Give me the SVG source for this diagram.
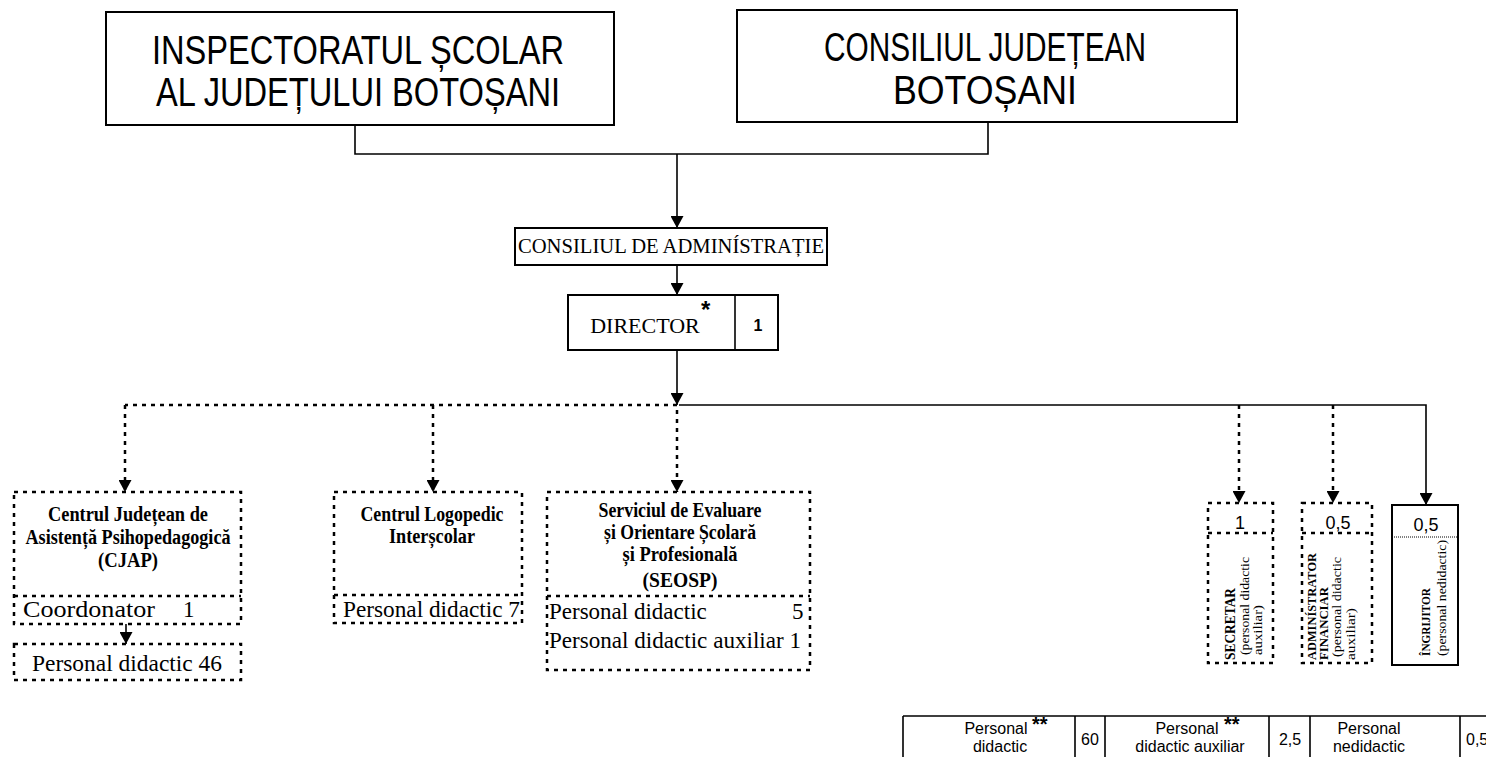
<svg xmlns="http://www.w3.org/2000/svg" width="1486" height="757" viewBox="0 0 1486 757">
<style>
.bg{fill:#fff}
.box{fill:#fff;stroke:#000;stroke-width:2}
.dbox{fill:none;stroke:#000;stroke-width:2.5;stroke-dasharray:4 5}
.ln{fill:none;stroke:#000;stroke-width:1.6}
.dln{fill:none;stroke:#000;stroke-width:2.5;stroke-dasharray:4 5}
.sans{font-family:"Liberation Sans",Arial,sans-serif;fill:#000}
.serif{font-family:"Liberation Serif","Times New Roman",serif;fill:#000}
.big{font-size:40px}
.b{font-weight:bold}
.reg{font-size:23px}
.bt{font-size:20px;font-weight:bold}
.mid{text-anchor:middle}
</style>
<defs>
<marker id="arr" viewBox="0 0 12 13" refX="12" refY="6.5" markerWidth="12" markerHeight="13" markerUnits="userSpaceOnUse" orient="auto">
<path d="M0,0 L12,6.5 L0,13 Z" fill="#000"/>
</marker>
</defs>
<rect class="bg" x="0" y="0" width="1486" height="757"/>

<g id="connectors">
<path class="ln" d="M355,125 V154 H988 V122"/>
<path class="ln" d="M677,154 V228" marker-end="url(#arr)"/>
<path class="ln" d="M677,265 V295" marker-end="url(#arr)"/>
<path class="ln" d="M677,350 V405" marker-end="url(#arr)"/>
<path class="dln" d="M677,405 H125"/>
<path class="dln" d="M125,405 V492" marker-end="url(#arr)"/>
<path class="dln" d="M433,405 V492" marker-end="url(#arr)"/>
<path class="dln" d="M677,410 V492" marker-end="url(#arr)"/>
<path class="ln" d="M679,405 H1426 V505" marker-end="url(#arr)"/>
<path class="dln" d="M1239,405 V503" marker-end="url(#arr)"/>
<path class="dln" d="M1333,405 V503" marker-end="url(#arr)"/>
<path class="ln" d="M126,624 V644" marker-end="url(#arr)"/>
</g>

<g id="isj">
<rect class="box" x="106" y="12" width="508" height="113"/>
<text class="sans big mid" x="358" y="64" textLength="412" lengthAdjust="spacingAndGlyphs">INSPECTORATUL ȘCOLAR</text>
<text class="sans big mid" x="358" y="106" textLength="404" lengthAdjust="spacingAndGlyphs">AL JUDEȚULUI BOTOȘANI</text>
</g>

<g id="cjb">
<rect class="box" x="737" y="10" width="500" height="112"/>
<text class="sans big mid" x="985" y="61" textLength="322" lengthAdjust="spacingAndGlyphs">CONSILIUL JUDEȚEAN</text>
<text class="sans big mid" x="985" y="104" textLength="184" lengthAdjust="spacingAndGlyphs">BOTOȘANI</text>
</g>

<g id="ca">
<rect class="box" x="515" y="228" width="312" height="37"/>
<text class="serif mid" x="671" y="253" font-size="20" textLength="306" lengthAdjust="spacingAndGlyphs">CONSILIUL DE ADMINÍSTRAȚIE</text>
</g>

<g id="director">
<rect class="box" x="568" y="295" width="210" height="55"/>
<line class="ln" x1="735" y1="295" x2="735" y2="350" stroke-width="2"/>
<text class="serif mid" x="645" y="333" font-size="22">DIRECTOR</text>
<text class="sans b" x="701" y="318" font-size="24">*</text>
<text class="sans b mid" x="758" y="331" font-size="16">1</text>
</g>

<g id="cjap">
<rect class="dbox" x="14" y="492" width="227" height="132"/>
<line class="dln" x1="14" y1="596" x2="241" y2="596"/>
<text class="serif bt mid" x="128" y="521" textLength="160" lengthAdjust="spacingAndGlyphs">Centrul Județean de</text>
<text class="serif bt mid" x="128" y="544" textLength="205" lengthAdjust="spacingAndGlyphs">Asistență Psihopedagogică</text>
<text class="serif bt mid" x="128" y="567" textLength="60" lengthAdjust="spacingAndGlyphs">(CJAP)</text>
<text class="serif reg" x="23" y="617" textLength="132" lengthAdjust="spacingAndGlyphs">Coordonator</text>
<text class="serif reg" x="183" y="617">1</text>
</g>

<g id="cjap-personal">
<rect class="dbox" x="14" y="644" width="227" height="36"/>
<text class="serif reg" x="32" y="671" textLength="190" lengthAdjust="spacingAndGlyphs">Personal didactic 46</text>
</g>

<g id="logopedic">
<rect class="dbox" x="334" y="492" width="188" height="131"/>
<line class="dln" x1="334" y1="595" x2="522" y2="595"/>
<text class="serif bt mid" x="432" y="521" textLength="143" lengthAdjust="spacingAndGlyphs">Centrul Logopedic</text>
<text class="serif bt mid" x="432" y="543" textLength="86" lengthAdjust="spacingAndGlyphs">Interșcolar</text>
<text class="serif reg" x="343" y="617" textLength="177" lengthAdjust="spacingAndGlyphs">Personal didactic 7</text>
</g>

<g id="seosp">
<rect class="dbox" x="547" y="492" width="263" height="178"/>
<line class="dln" x1="547" y1="596" x2="810" y2="596"/>
<text class="serif bt mid" x="680" y="517" textLength="163" lengthAdjust="spacingAndGlyphs">Serviciul de Evaluare</text>
<text class="serif bt mid" x="680" y="539" textLength="152" lengthAdjust="spacingAndGlyphs">și Orientare Școlară</text>
<text class="serif bt mid" x="680" y="561" textLength="115" lengthAdjust="spacingAndGlyphs">și Profesională</text>
<text class="serif bt mid" x="680" y="587" textLength="75" lengthAdjust="spacingAndGlyphs">(SEOSP)</text>
<text class="serif reg" x="549" y="619">Personal didactic</text>
<text class="serif reg" x="792" y="619">5</text>
<text class="serif reg" x="549" y="648" textLength="252" lengthAdjust="spacingAndGlyphs">Personal didactic auxiliar 1</text>
</g>

<g id="secretar">
<rect class="dbox" x="1208" y="503" width="65" height="160"/>
<line class="dln" x1="1208" y1="533" x2="1273" y2="533"/>
<text class="sans mid" x="1240" y="529" font-size="18">1</text>
<text class="serif b" font-size="14" transform="translate(1235,660) rotate(-90)" textLength="72" lengthAdjust="spacingAndGlyphs">SECRETAR</text>
<text class="serif" font-size="13" transform="translate(1249,655) rotate(-90)" textLength="98" lengthAdjust="spacingAndGlyphs">(personal didactic</text>
<text class="serif" font-size="13" transform="translate(1262,655) rotate(-90)" textLength="50" lengthAdjust="spacingAndGlyphs">auxiliar)</text>
</g>

<g id="administrator">
<rect class="dbox" x="1302" y="503" width="70" height="160"/>
<line class="dln" x1="1302" y1="533" x2="1372" y2="533"/>
<text class="sans mid" x="1338" y="529" font-size="18">0,5</text>
<text class="serif b" font-size="13" transform="translate(1316,660) rotate(-90)" textLength="107" lengthAdjust="spacingAndGlyphs">ADMINÍSTRATOR</text>
<text class="serif b" font-size="13" transform="translate(1328,660) rotate(-90)" textLength="73" lengthAdjust="spacingAndGlyphs">FINANCIAR</text>
<text class="serif" font-size="13" transform="translate(1341,657) rotate(-90)" textLength="100" lengthAdjust="spacingAndGlyphs">(personal didactic</text>
<text class="serif" font-size="13" transform="translate(1355,660) rotate(-90)" textLength="52" lengthAdjust="spacingAndGlyphs">auxiliar)</text>
</g>

<g id="ingrijitor">
<rect class="box" x="1392" y="505" width="66" height="160"/>
<line x1="1392" y1="537" x2="1458" y2="537" stroke="#000" stroke-width="1" stroke-dasharray="1 1"/>
<text class="sans mid" x="1426" y="531" font-size="18">0,5</text>
<text class="serif b" font-size="13" transform="translate(1430,656) rotate(-90)" textLength="68" lengthAdjust="spacingAndGlyphs">ÎNGRIJITOR</text>
<text class="serif" font-size="13" transform="translate(1446,656) rotate(-90)" textLength="116" lengthAdjust="spacingAndGlyphs">(personal nedidactic)</text>
</g>

<g id="totals">
<path class="ln" d="M903,716 H1486 M903,716 V757 M1075,716 V757 M1105,716 V757 M1269,716 V757 M1310,716 V757 M1460,716 V757"/>
<text class="sans mid" x="996" y="734" font-size="16">Personal</text>
<text class="sans b" x="1032" y="731" font-size="20">**</text>
<text class="sans mid" x="1000" y="752" font-size="16">didactic</text>
<text class="sans mid" x="1090" y="745" font-size="16">60</text>
<text class="sans mid" x="1187" y="734" font-size="16">Personal</text>
<text class="sans b" x="1224" y="731" font-size="20">**</text>
<text class="sans mid" x="1190" y="752" font-size="16">didactic auxiliar</text>
<text class="sans mid" x="1290" y="745" font-size="16">2,5</text>
<text class="sans mid" x="1369" y="734" font-size="16">Personal</text>
<text class="sans mid" x="1369" y="752" font-size="16">nedidactic</text>
<text class="sans" x="1466" y="745" font-size="16">0,5</text>
</g>
</svg>
